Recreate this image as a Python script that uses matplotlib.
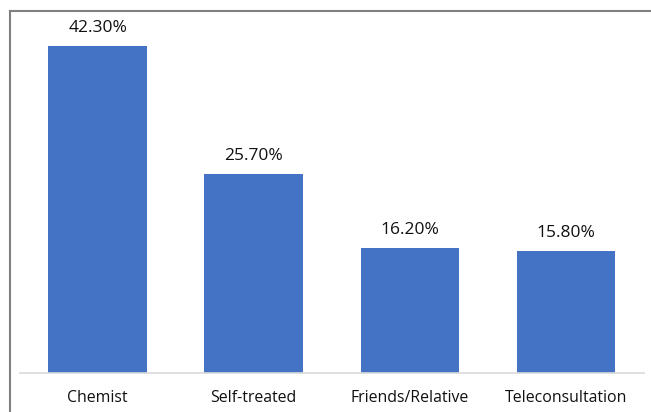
import matplotlib
matplotlib.use("Agg")
import matplotlib.pyplot as plt
from matplotlib.lines import Line2D

categories = ["Chemist", "Self-treated", "Friends/Relative", "Teleconsultation"]
values = [42.3, 25.7, 16.2, 15.8]
labels = ["42.30%", "25.70%", "16.20%", "15.80%"]

plt.rcParams['font.family'] = ['Open Sans', 'DejaVu Sans']

fig = plt.figure(figsize=(6.51, 4.12), dpi=100)
ax = fig.add_axes([0.030, 0.0947, 0.959, 0.878])

x = range(len(categories))
bars = ax.bar(x, values, width=0.63, color="#4472C4", zorder=2)

for bar, lab in zip(bars, labels):
    ax.text(bar.get_x() + bar.get_width() / 2, bar.get_height() + 1.3, lab,
            ha="center", va="bottom", fontsize=12.5, color="#111111")

ax.set_xlim(-0.5, len(categories) - 0.5)
ax.set_ylim(0, 46.8)
ax.set_xticks(list(x))
ax.set_xticklabels(categories, fontsize=11.4, color="#111111")
ax.tick_params(axis="x", length=0, pad=12.5)
ax.set_yticks([])
for side in ["top", "right", "left"]:
    ax.spines[side].set_visible(False)
ax.spines["bottom"].set_color("#D9D9D9")
ax.spines["bottom"].set_linewidth(1.2)

# outer frame (top and left edges visible)
fig.add_artist(Line2D([10 / 651, 1.0], [1 - 10.5 / 412, 1 - 10.5 / 412],
                      transform=fig.transFigure, color="#7F7F7F", lw=1.5))
fig.add_artist(Line2D([10 / 651, 10 / 651], [0, 1 - 10.5 / 412],
                      transform=fig.transFigure, color="#7F7F7F", lw=1.5))

fig.savefig("out.png", dpi=100)
